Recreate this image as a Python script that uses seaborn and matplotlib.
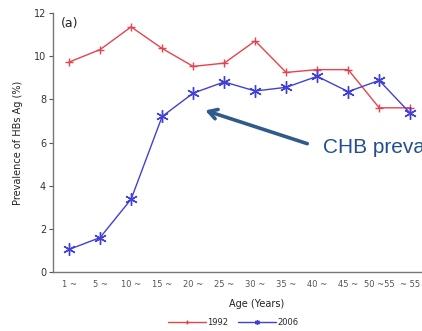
import numpy as np
import pandas as pd
import matplotlib
matplotlib.use("Agg")
import matplotlib.pyplot as plt
import seaborn as sns

# Age groups and HBsAg prevalence (%) from the two national surveys
age_groups = ["1 ~", "5 ~", "10 ~", "15 ~", "20 ~", "25 ~", "30 ~", "35 ~",
              "40 ~", "45 ~", "50 ~55", "~ 55"]
prev_1992 = [9.73, 10.31, 11.36, 10.36, 9.53, 9.68, 10.71, 9.25, 9.38, 9.38, 7.61, 7.61]
prev_2006 = [1.05, 1.60, 3.38, 7.21, 8.29, 8.81, 8.39, 8.56, 9.07, 8.36, 8.88, 7.36]
y_ticks = [0, 2, 4, 6, 8, 10, 12]

df = pd.DataFrame({
    "pos": np.arange(len(age_groups)),
    "1992": prev_1992,
    "2006": prev_2006,
})

sns.set_style("white")
plt.rcParams["font.family"] = ["DejaVu Sans"]

fig = plt.figure(figsize=(4.22, 3.31), dpi=100)
# axes run past the right edge of the canvas
ax = fig.add_axes([0.1256, 0.178, 0.964, 0.7825])

red = "#e8424e"
blue = "#4040d6"
sns.lineplot(data=df, x="pos", y="1992", ax=ax, color=red, lw=1.0,
             marker="+", markersize=6, markeredgewidth=1.0,
             markeredgecolor=red, label="1992")
sns.lineplot(data=df, x="pos", y="2006", ax=ax, color=blue, lw=1.0,
             marker=(6, 2, 0), markersize=9, markeredgewidth=1.0,
             markeredgecolor=blue, label="2006")

ax.set_xlim(-0.52, 12.6)
ax.set_ylim(0, 12)
ax.set_xticks(df["pos"])
ax.set_xticklabels(age_groups, fontsize=6, color="#555555")
ax.set_yticks(y_ticks)
ax.set_yticklabels([str(t) for t in y_ticks], fontsize=7, color="#333333")
ax.tick_params(axis="x", length=0, pad=6)
ax.tick_params(axis="y", direction="out", length=3, width=0.8, color="#555555",
               left=True, pad=2)

for side in ["top", "right"]:
    ax.spines[side].set_visible(False)
for side in ["left", "bottom"]:
    ax.spines[side].set_color("#777777")
    ax.spines[side].set_linewidth(1.0)

ax.set_xlabel("Age (Years)", fontsize=7, color="#222222", labelpad=7)
ax.set_ylabel("Prevalence of HBs Ag (%)", fontsize=7, color="#222222", labelpad=8)

ax.text(0.02, 0.985, "(a)", transform=ax.transAxes, fontsize=9,
        color="#222222", ha="left", va="top")

leg = ax.legend(loc="center", bbox_to_anchor=(0.553, 0.025),
                bbox_transform=fig.transFigure, ncol=2, frameon=False,
                fontsize=6, handlelength=4.5, handletextpad=0.2,
                columnspacing=1.2, markerscale=0.4)

# callout pointing at the 2006 curve
ax.annotate("", xy=(4.39, 7.49), xytext=(7.68, 5.95),
            arrowprops=dict(arrowstyle="->,head_length=0.6,head_width=0.35",
                            color="#2f5a8a", lw=2.6, shrinkA=0, shrinkB=0),
            annotation_clip=False)
ax.text(8.19, 5.53, "CHB prevalence", fontsize=15, color="#23508d",
        family="Liberation Sans", ha="left", va="baseline", clip_on=False)

fig.savefig("out.png", dpi=100)
